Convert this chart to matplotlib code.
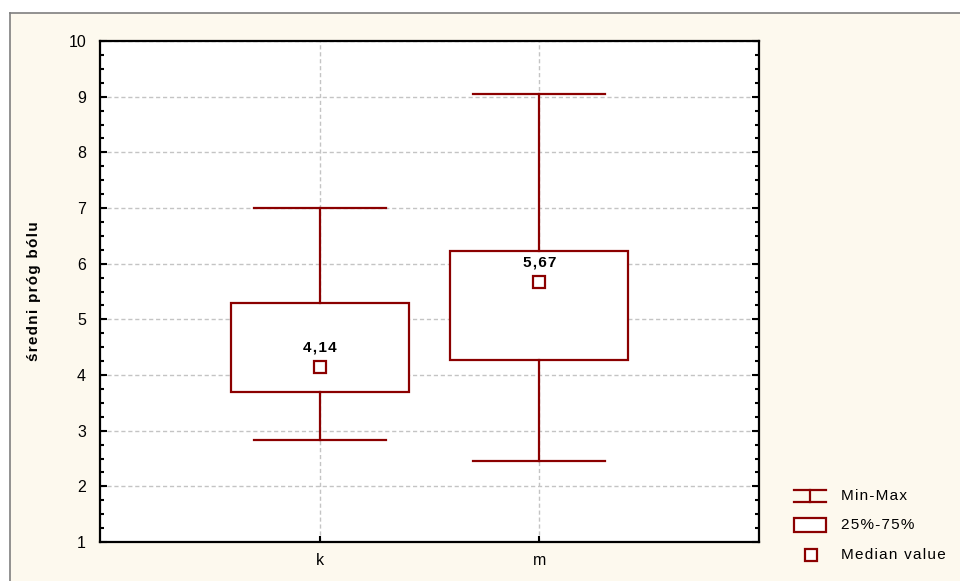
import matplotlib.pyplot as plt
from matplotlib.patches import Rectangle
from matplotlib.lines import Line2D

# data
groups = ['k', 'm']
mins = [2.84, 2.45]
q1 = [3.69, 4.27]
medians = [4.14, 5.67]
q3 = [5.29, 6.23]
maxs = [7.0, 9.05]
median_labels = ['4,14', '5,67']

red = '#8B0000'
cream = '#FDF9EE'

plt.rcParams['font.family'] = ['Liberation Sans', 'DejaVu Sans']


def spaced(s):
    # mimic the wide letter spacing of the original
    return '\u200a'.join(s)


fig = plt.figure(figsize=(9.6, 5.81), dpi=100)
fig.patch.set_facecolor('white')

# cream panel with grey border on top and left
fig.add_artist(Rectangle((10/960, 0), 1, 1 - 13/581, transform=fig.transFigure,
                         facecolor=cream, edgecolor='none', zorder=-10))
fig.add_artist(Line2D([10/960, 1], [1 - 13/581, 1 - 13/581], transform=fig.transFigure,
                      color='#7F7F7F', lw=1.2))
fig.add_artist(Line2D([10/960, 10/960], [0, 1 - 13/581], transform=fig.transFigure,
                      color='#7F7F7F', lw=1.2))

ax = fig.add_axes([100/960, 1 - 542/581, 659/960, 501/581])
ax.set_facecolor('white')

stats = []
for i, g in enumerate(groups):
    stats.append(dict(label=g, whislo=mins[i], q1=q1[i], med=medians[i],
                      q3=q3[i], whishi=maxs[i], fliers=[]))

positions = [1, 2]
ax.bxp(stats, positions=positions, widths=0.81, patch_artist=True,
       showfliers=False,
       boxprops=dict(facecolor='white', edgecolor=red, linewidth=1.6),
       whiskerprops=dict(color=red, linewidth=1.6),
       capprops=dict(color=red, linewidth=1.6),
       medianprops=dict(linestyle='none'),
       capwidths=0.6, zorder=3)

ax.plot(positions, medians, linestyle='none', marker='s', markersize=8,
        markerfacecolor='white', markeredgecolor=red, markeredgewidth=1.6, zorder=4)
for p, m, lab in zip(positions, medians, median_labels):
    ax.annotate(spaced(lab), (p, m), xytext=(0, 9), textcoords='offset points',
                ha='center', va='bottom', fontsize=11, fontweight='bold', zorder=5)

ax.set_xlim(0, 3)
ax.set_ylim(1, 10)
ax.set_yticks(range(1, 11))
ax.set_yticks([1 + i * 0.25 for i in range(37)], minor=True)
ax.set_xticks(positions)
ax.set_xticklabels(groups)

ax.grid(True, which='major', color='#C4C4C4', linestyle=(0, (3, 2)), linewidth=1, zorder=0)
ax.set_axisbelow(True)

for s in ax.spines.values():
    s.set_linewidth(1.6)
    s.set_color('black')

ax.tick_params(axis='y', which='major', direction='in', length=5, width=1.5,
               left=True, right=True, labelsize=11.5, pad=10)
ax.tick_params(axis='y', which='minor', direction='in', length=3, width=1.5,
               left=True, right=True)
ax.tick_params(axis='x', which='major', direction='in', length=4, width=1.5,
               labelsize=11.5, pad=8)

ax.set_ylabel(spaced('średni próg bólu'), fontsize=11, fontweight='bold', labelpad=20)

# legend drawn in figure pixels
def fx(x):
    return x / 960

def fy(y):
    return 1 - y / 581

fig.add_artist(Line2D([fx(794), fx(826)], [fy(490), fy(490)], transform=fig.transFigure, color=red, lw=1.6))
fig.add_artist(Line2D([fx(794), fx(826)], [fy(502), fy(502)], transform=fig.transFigure, color=red, lw=1.6))
fig.add_artist(Line2D([fx(810), fx(810)], [fy(490), fy(502)], transform=fig.transFigure, color=red, lw=1.6))
fig.add_artist(Rectangle((fx(794), fy(532)), fx(32), 14/581, transform=fig.transFigure,
                         facecolor='white', edgecolor=red, lw=1.6))
fig.add_artist(Line2D([fx(811)], [fy(555)], transform=fig.transFigure, linestyle='none',
                      marker='s', markersize=8, markerfacecolor='white',
                      markeredgecolor=red, markeredgewidth=1.6))
for y, txt in zip([496, 525, 555], ['Min-Max', '25%-75%', 'Median value']):
    fig.text(fx(841), fy(y), spaced(txt), fontsize=11, va='center', ha='left')

fig.savefig('out.png', dpi=100, facecolor=fig.get_facecolor())
